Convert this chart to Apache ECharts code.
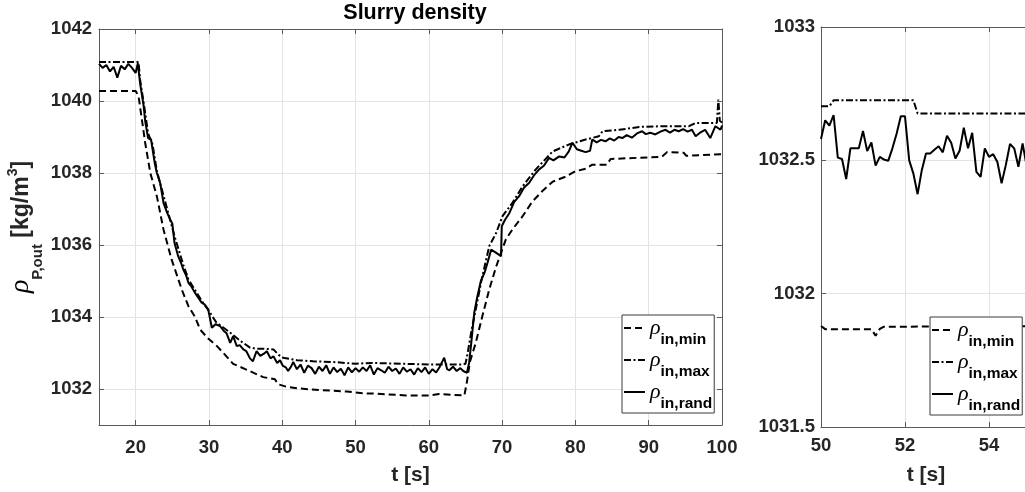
<!DOCTYPE html>
<html><head><meta charset="utf-8">
<script src="https://cdn.jsdelivr.net/npm/echarts@6/dist/echarts.min.js"></script>
<style>html,body{margin:0;padding:0;background:#fff}#c{width:1025px;height:492px}</style>
</head><body><div id="c"></div>
<script>
// ---------- DATA ----------
const seriesNames = ['rho_in_min', 'rho_in_max', 'rho_in_rand'];
const legendSubs = ['in,min', 'in,max', 'in,rand'];
const chartTitle = 'Slurry density';
const xName = 't [s]';

// Left panel (full run)
const tMinL = [15, 20.0, 20.4, 21.3, 22.0, 22.9, 23.8, 24.9, 26.3, 27.2, 28.1, 28.8, 29.9, 31.1, 32.2, 33.3, 35.1, 37.4, 39.0, 39.45, 40.6, 42.0, 45.1, 48.8, 51.0, 53.0, 56.9, 60.1, 61.4, 64.85, 65.2, 65.6, 66.4, 67.3, 68.25, 69.2, 70.5, 71.4, 72.8, 74.1, 75.5, 76.9, 78.7, 80.0, 81.4, 82.3, 84.3, 84.8, 91.8, 92.5, 94.8, 95.1, 100];
const vMinL = [1040.28, 1040.28, 1040.13, 1038.84, 1038.0, 1037.35, 1036.43, 1035.6, 1034.76, 1034.3, 1034.0, 1033.65, 1033.4, 1033.19, 1032.95, 1032.7, 1032.54, 1032.33, 1032.27, 1032.13, 1032.06, 1032.02, 1031.97, 1031.93, 1031.88, 1031.87, 1031.82, 1031.82, 1031.86, 1031.82, 1032.2, 1032.75, 1033.28, 1034.02, 1034.77, 1035.41, 1036.15, 1036.43, 1036.8, 1037.2, 1037.5, 1037.76, 1037.9, 1038.05, 1038.12, 1038.23, 1038.23, 1038.39, 1038.45, 1038.58, 1038.56, 1038.48, 1038.52];

const tMaxL = [15, 20.4, 20.6, 21.1, 21.7, 22.3, 22.9, 23.5, 24.3, 25.3, 26.5, 27.2, 28.1, 29.0, 29.9, 31.0, 32.0, 33.0, 34.2, 35.6, 36.5, 37.5, 38.8, 39.5, 40.1, 42.0, 44.2, 47.0, 50.0, 50.25, 52.2, 52.3, 60.0, 64.6, 65.0, 65.3, 65.8, 66.4, 67.3, 68.25, 69.2, 70.05, 71.4, 72.8, 74.6, 76.9, 79.1, 81.4, 83.2, 83.7, 86.0, 88.7, 92.0, 95.5, 96.4, 99.3, 99.5, 99.7, 100];
const vMaxL = [1041.08, 1041.08, 1040.6, 1039.95, 1039.1, 1038.8, 1038.05, 1037.6, 1037.0, 1036.25, 1035.45, 1035.05, 1034.75, 1034.45, 1034.2, 1033.85, 1033.7, 1033.55, 1033.35, 1033.15, 1033.12, 1033.12, 1033.1, 1032.95, 1032.87, 1032.8, 1032.77, 1032.75, 1032.7, 1032.725, 1032.725, 1032.68, 1032.68, 1032.68, 1032.7, 1033.0, 1033.6, 1034.21, 1035.13, 1035.97, 1036.34, 1036.8, 1037.17, 1037.63, 1038.1, 1038.6, 1038.79, 1038.93, 1039.02, 1039.16, 1039.2, 1039.28, 1039.3, 1039.3, 1039.39, 1039.39, 1040.04, 1039.45, 1039.4];

const tRandL = [15.0, 15.5, 16.0, 16.5, 17.0, 17.5, 18.0, 18.5, 19.0, 19.5, 20.0, 20.3, 20.6, 21.1, 21.3, 21.7, 22.1, 22.3, 22.6, 22.9, 23.35, 23.8, 24.3, 24.7, 25.0, 25.3, 25.8, 26.2, 26.5, 26.9, 27.2, 27.6, 28.1, 28.5, 29.0, 29.4, 29.9, 30.4, 30.9, 31.5, 32.0, 32.4, 32.9, 33.3, 33.8, 34.2, 34.7, 35.1, 35.6, 36.0, 36.5, 37.0, 37.5, 37.9, 38.4, 38.8, 39.3, 39.7, 40.1, 40.5, 40.8, 41.2, 41.5, 42.0, 42.5, 43.0, 43.5, 44.0, 44.5, 45.0, 45.5, 46.0, 46.5, 47.0, 47.5, 48.0, 48.5, 49.0, 49.5, 50.0, 50.5, 51.0, 51.5, 52.0, 52.5, 53.0, 53.5, 54.0, 54.5, 55.0, 55.5, 56.0, 56.5, 57.0, 57.5, 58.0, 58.5, 59.0, 59.5, 60.0, 60.5, 61.0, 61.5, 62.1, 62.5, 62.8, 63.3, 63.8, 64.3, 64.7, 65.2, 65.5, 65.8, 66.2, 66.6, 67.1, 67.6, 68.0, 68.5, 69.2, 69.85, 69.95, 70.4, 71.0, 71.65, 72.3, 73.0, 73.7, 74.4, 75.05, 75.7, 76.4, 77.0, 77.8, 78.5, 79.1, 79.6, 80.2, 80.8, 81.4, 82.0, 82.3, 82.9, 83.5, 84.1, 84.7, 85.3, 85.9, 86.4, 87.0, 87.7, 88.4, 89.1, 89.6, 90.2, 90.9, 91.6, 92.3, 92.9, 93.5, 94.1, 94.7, 95.3, 95.9, 96.4, 97.0, 97.7, 98.4, 99.1, 99.8, 100.0];
const vRandL = [1041.03, 1040.92, 1041.00, 1040.82, 1040.95, 1040.65, 1040.98, 1040.88, 1041.03, 1040.92, 1040.78, 1041.05, 1040.50, 1039.85, 1039.44, 1038.97, 1038.93, 1038.98, 1038.28, 1038.00, 1037.72, 1037.17, 1036.89, 1036.71, 1036.60, 1036.06, 1035.69, 1035.50, 1035.32, 1035.15, 1034.95, 1034.85, 1034.67, 1034.55, 1034.40, 1034.35, 1034.21, 1033.70, 1033.80, 1033.75, 1033.62, 1033.55, 1033.28, 1033.47, 1033.19, 1033.22, 1033.10, 1033.05, 1032.85, 1032.77, 1033.05, 1032.92, 1032.98, 1033.05, 1032.85, 1032.91, 1032.72, 1032.80, 1032.64, 1032.60, 1032.50, 1032.62, 1032.75, 1032.55, 1032.68, 1032.45, 1032.65, 1032.58, 1032.42, 1032.62, 1032.50, 1032.66, 1032.42, 1032.60, 1032.47, 1032.56, 1032.38, 1032.60, 1032.46, 1032.58, 1032.48, 1032.60, 1032.50, 1032.66, 1032.40, 1032.58, 1032.52, 1032.45, 1032.62, 1032.50, 1032.57, 1032.42, 1032.60, 1032.48, 1032.55, 1032.40, 1032.58, 1032.47, 1032.60, 1032.42, 1032.55, 1032.46, 1032.62, 1032.87, 1032.55, 1032.52, 1032.62, 1032.50, 1032.58, 1032.50, 1032.45, 1032.73, 1033.30, 1034.12, 1034.55, 1035.00, 1035.23, 1035.50, 1035.87, 1035.78, 1035.69, 1036.52, 1036.70, 1036.89, 1037.20, 1037.35, 1037.60, 1037.73, 1037.95, 1038.10, 1038.20, 1038.42, 1038.35, 1038.46, 1038.43, 1038.60, 1038.84, 1038.66, 1038.62, 1038.58, 1038.62, 1038.93, 1038.85, 1038.92, 1038.88, 1038.96, 1038.90, 1039.00, 1038.97, 1039.05, 1038.98, 1039.10, 1039.16, 1039.08, 1039.12, 1039.07, 1039.15, 1039.20, 1039.12, 1039.20, 1039.16, 1039.22, 1039.15, 1039.20, 1039.02, 1039.12, 1039.20, 1038.97, 1039.30, 1039.20, 1039.32];

// Right panel (zoom 50-55 s)
const tMinR = [50, 50.1, 51.2, 51.3, 51.4, 51.5, 55];
const vMinR = [1031.879, 1031.867, 1031.867, 1031.842, 1031.868, 1031.876, 1031.878];
const tMaxR = [50, 50.2, 50.3, 52.2, 52.3, 55];
const vMaxR = [1032.703, 1032.703, 1032.725, 1032.725, 1032.676, 1032.676];
const tRandR = [50.0, 50.1, 50.2, 50.3, 50.4, 50.5, 50.6, 50.7, 50.8, 50.9, 51.0, 51.1, 51.2, 51.3, 51.4, 51.5, 51.6, 51.7, 51.8, 51.9, 52.0, 52.1, 52.2, 52.3, 52.4, 52.5, 52.6, 52.7, 52.8, 52.9, 53.0, 53.1, 53.2, 53.3, 53.4, 53.5, 53.6, 53.7, 53.8, 53.9, 54.0, 54.1, 54.2, 54.3, 54.4, 54.5, 54.6, 54.7, 54.8, 54.9, 55.0];
const vRandR = [1032.58, 1032.65, 1032.63, 1032.67, 1032.51, 1032.505, 1032.43, 1032.545, 1032.545, 1032.545, 1032.61, 1032.535, 1032.567, 1032.48, 1032.513, 1032.503, 1032.498, 1032.545, 1032.6, 1032.665, 1032.665, 1032.5, 1032.45, 1032.373, 1032.463, 1032.526, 1032.526, 1032.54, 1032.553, 1032.53, 1032.592, 1032.566, 1032.507, 1032.536, 1032.622, 1032.545, 1032.603, 1032.457, 1032.438, 1032.545, 1032.513, 1032.523, 1032.494, 1032.414, 1032.482, 1032.561, 1032.545, 1032.476, 1032.563, 1032.476, 1032.5];

// Axis ranges
const xRangeL = [15, 100], yRangeL = [1031, 1042];
const xRangeR = [50, 55], yRangeR = [1031.5, 1033];

// ---------- STYLE ----------
const FONT = 'Liberation Sans';
const TXT = '#262626';
const AXL = '#5a5a5a';
const GRIDC = '#e3e3e3';
const dashes = [[7, 4], [7, 2.5, 2, 2.5], 'solid'];

const zip = (t, v) => t.map((x, i) => [x, v[i]]);
const plain = (v) => String(v);

function xAxisPair(gi, range, opts) {
  const common = { gridIndex: gi, type: 'value', min: range[0], max: range[1],
    axisLine: { show: true, onZero: false, lineStyle: { color: AXL, width: 1 } },
    axisTick: { show: true, inside: true, length: 5, lineStyle: { color: AXL } } };
  return [
    Object.assign({}, common, opts, { position: 'bottom',
      splitLine: { show: true, lineStyle: { color: GRIDC, width: 1 } },
      name: xName, nameLocation: 'middle', nameGap: opts.nameGap, nameMoveOverlap: false,
      nameTextStyle: { color: TXT, fontFamily: FONT, fontWeight: 'bold', fontSize: 21 } }),
    Object.assign({}, common, opts, { position: 'top', axisLabel: { show: false }, splitLine: { show: false } })
  ];
}
function yAxisPair(gi, range, opts, nameObj) {
  const common = { gridIndex: gi, type: 'value', min: range[0], max: range[1],
    axisLine: { show: true, onZero: false, lineStyle: { color: AXL, width: 1 } },
    axisTick: { show: true, inside: true, length: 5, lineStyle: { color: AXL } } };
  return [
    Object.assign({}, common, opts, { position: 'left',
      splitLine: { show: true, lineStyle: { color: GRIDC, width: 1 } } }, nameObj || {}),
    Object.assign({}, common, opts, { position: 'right', axisLabel: { show: false }, splitLine: { show: false } })
  ];
}
const lab = (extra) => Object.assign({ color: TXT, fontFamily: FONT, fontWeight: 'bold', fontSize: 18.5, formatter: plain }, extra);

const xAxes = [].concat(
  xAxisPair(0, xRangeL, { splitNumber: 8, nameGap: 40, axisLabel: lab({ margin: 13, showMinLabel: false }) }),
  xAxisPair(1, xRangeR, { interval: 2, nameGap: 38, axisLabel: lab({ margin: 9, showMaxLabel: false }) })
);
const yNameRich = {
  r: { fontFamily: 'Liberation Serif', fontStyle: 'italic', fontSize: 28, lineHeight: 46, padding: [8, 0, 0, 0], verticalAlign: 'top', color: '#000' },
  s: { fontFamily: FONT, fontWeight: 'bold', fontSize: 15, lineHeight: 46, padding: [31, 0, 0, 0], verticalAlign: 'top', color: TXT },
  m: { fontFamily: FONT, fontWeight: 'bold', fontSize: 23, lineHeight: 46, padding: [11, 0, 0, 0], verticalAlign: 'top', color: TXT },
  p: { fontFamily: FONT, fontWeight: 'bold', fontSize: 14, lineHeight: 46, padding: [7, 0, 0, 0], verticalAlign: 'top', color: TXT }
};
const yAxes = [].concat(
  yAxisPair(0, yRangeL, { splitNumber: 5, axisLabel: lab({ margin: 7, showMinLabel: false }) },
    { name: '{r|ρ}{s|P,out}{m| [kg/m}{p|3}{m|]}', nameLocation: 'middle', nameRotate: 90, nameGap: 54,
      nameMoveOverlap: false, nameTextStyle: { rich: yNameRich } }),
  yAxisPair(1, yRangeR, { interval: 0.5, axisLabel: lab({ margin: 6 }) })
);

function mkSeries(idx, xi, yi, data) {
  return { name: seriesNames[idx], type: 'line', xAxisIndex: xi, yAxisIndex: yi, data: data,
    showSymbol: false, symbol: 'none', silent: true, z: 3,
    itemStyle: { color: '#000' },
    lineStyle: { color: '#000', width: 2, type: dashes[idx] } };
}
const series = [
  mkSeries(0, 0, 0, zip(tMinL, vMinL)),
  mkSeries(1, 0, 0, zip(tMaxL, vMaxL)),
  mkSeries(2, 0, 0, zip(tRandL, vRandL)),
  mkSeries(0, 2, 2, zip(tMinR, vMinR)),
  mkSeries(1, 2, 2, zip(tMaxR, vMaxR)),
  mkSeries(2, 2, 2, zip(tRandR, vRandR))
];

const legendRich = {
  r: { fontFamily: 'Liberation Serif', fontStyle: 'italic', fontSize: 22, lineHeight: 22, verticalAlign: 'top', color: '#000' },
  s: { fontFamily: FONT, fontWeight: 'bold', fontSize: 15.5, lineHeight: 16, padding: [15, 0, 0, 0], verticalAlign: 'top', color: '#000' }
};
function mkLegend(left, top) {
  return { left: left, top: top, orient: 'vertical', data: seriesNames, selectedMode: false,
    itemWidth: 21, itemHeight: 10, itemGap: 1, padding: [2, 2, 1, 1],
    itemStyle: { opacity: 0 },
    borderColor: '#3a3a3a', borderWidth: 1, backgroundColor: '#fff', z: 10,
    formatter: (n) => '{r|ρ}{s|' + legendSubs[seriesNames.indexOf(n)] + '}',
    textStyle: { rich: legendRich } };
}

const chart = echarts.init(document.getElementById('c'), null, { renderer: 'canvas' });
chart.setOption({
  animation: false,
  backgroundColor: '#fff',
  title: { text: chartTitle, left: 410, top: -3, textAlign: 'center',
    textStyle: { fontFamily: FONT, fontWeight: 'bold', fontSize: 21.5, color: '#000' } },
  grid: [
    { left: 99, top: 29, width: 623, height: 396, containLabel: false, outerBoundsMode: 'none' },
    { left: 821, top: 27, width: 210, height: 400, containLabel: false, outerBoundsMode: 'none' }
  ],
  xAxis: xAxes,
  yAxis: yAxes,
  legend: [mkLegend(622, 315), mkLegend(930, 317)],
  series: series
});
</script></body></html>
